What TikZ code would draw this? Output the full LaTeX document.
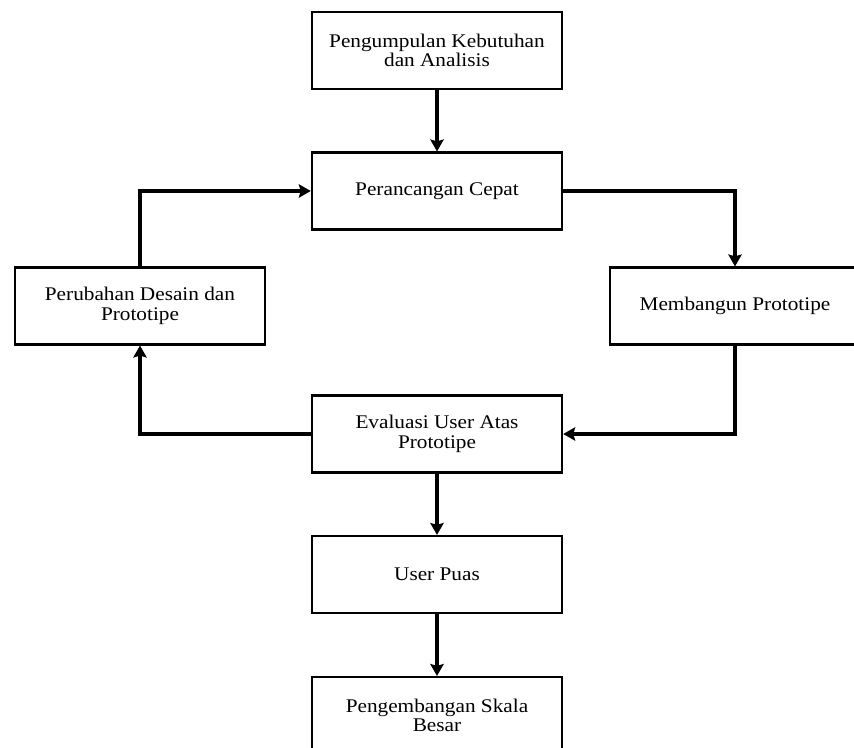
\documentclass[tikz,border=0pt]{standalone}
\usepackage{fontspec}
\setmainfont{Liberation Serif}[FakeStretch=1.1]
\usetikzlibrary{arrows.meta}

\tikzset{every picture/.style={line width=0.75pt}}
\tikzset{
  blok/.style={draw, line width=1.8pt, rectangle, minimum width=187.5pt, minimum height=57.5pt,
    inner sep=0.75pt, align=center, font=\fontsize{14.5}{14.5}\selectfont},
  panah/.style={line width=3.2pt, -{Stealth[length=9pt,width=10pt,inset=1.5pt]}}
}

\begin{document}
\begin{tikzpicture}[x=0.75pt,y=0.75pt,yscale=-1,xscale=1]
%set diagram size
\useasboundingbox (0,0) rectangle (854,748);

% Text Node
\node [blok] (kebutuhan) at (437,50.5) {Pengumpulan Kebutuhan\\dan Analisis};
% Text Node
\node [blok] (cepat) at (437,191) {Perancangan Cepat};
% Text Node
\node [blok] (perubahan) at (140,306) {Perubahan Desain dan\\Prototipe};
% Text Node
\node [blok] (membangun) at (735,306) {Membangun Prototipe};
% Text Node
\node [blok] (evaluasi) at (437,434) {Evaluasi User Atas\\Prototipe};
% Text Node
\node [blok] (puas) at (437,574.5) {User Puas};
% Text Node
\node [blok] (skala) at (437,715.5) {Pengembangan Skala\\Besar};

%Straight Lines
\draw [panah] (kebutuhan) -- (cepat);
\draw [panah] (cepat.east) -| (membangun.north);
\draw [panah] (membangun.south) |- (evaluasi.east);
\draw [panah] (evaluasi.west) -| (perubahan.south);
\draw [panah] (perubahan.north) |- (cepat.west);
\draw [panah] (evaluasi) -- (puas);
\draw [panah] (puas) -- (skala);

\end{tikzpicture}
\end{document}
